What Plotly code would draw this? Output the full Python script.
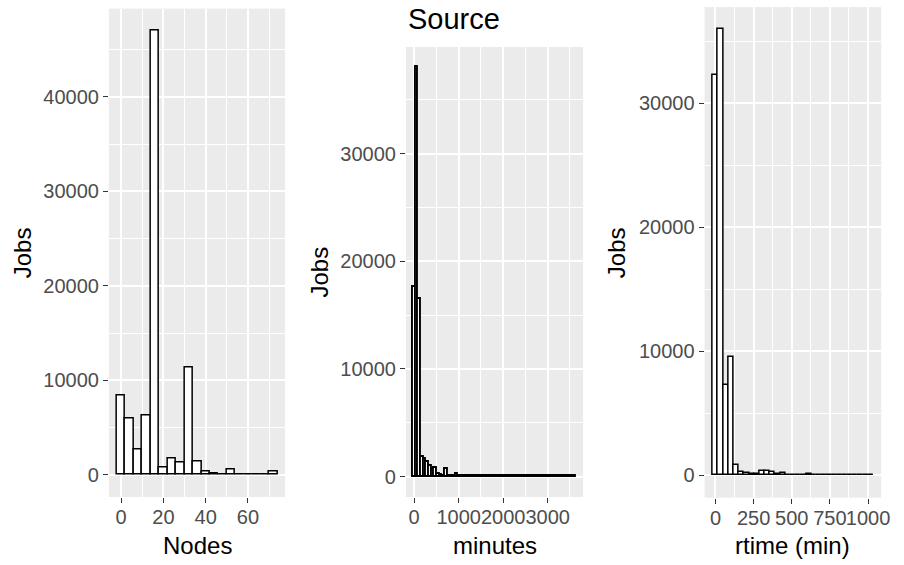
import plotly.graph_objects as go

# ---------------- data ----------------
nodes_centers = [0, 4, 8, 12, 16, 20, 24, 28, 32, 36, 40, 44, 48, 52, 56, 60, 64, 68, 72]
nodes_counts = [8400, 5900, 2700, 6300, 47000, 760, 1700, 1340, 11370, 1450,
                300, 100, 30, 500, 20, 15, 15, 15, 380]
nodes_binwidth = 4

minutes_centers = list(range(0, 3601, 60))
minutes_counts = [17600, 38000, 16500, 1800, 1600, 1350, 950, 600, 800, 200,
                  100, 80, 700, 80, 50, 40, 250, 30, 30, 20,
                  20, 20, 20, 15, 80, 15, 12, 10, 10, 12,
                  10, 10, 10, 8, 8, 10, 12, 8, 8, 8,
                  8, 8, 10, 8, 8, 8, 8, 8, 10, 8,
                  8, 8, 8, 8, 8, 8, 8, 8, 8, 8, 12]
minutes_binwidth = 60

rtime_centers = list(range(0, 1021, 34))
rtime_counts = [32300, 35950, 7300, 9500, 850, 300, 150, 130, 130, 380,
                350, 250, 120, 220, 60, 40, 40, 60, 120, 30,
                20, 30, 15, 10, 10, 8, 8, 10, 6, 6, 10]
rtime_binwidth = 34

nodes_xticks = [0, 20, 40, 60]
minutes_xticks = [0, 1000, 2000, 3000]
rtime_xticks = [0, 250, 500, 750, 1000]

# ---------------- layout helpers ----------------
W, H = 904, 565
FONT = "Liberation Sans, Arial, Helvetica, sans-serif"
PANEL_BG = "#EBEBEB"
TICK_COL = "#4D4D4D"


def px_x(p):
    return p / W


def px_y(p):
    return 1 - p / H


panels = [
    # (x0, x1, ytop, ybottom) in pixels
    (110, 288, 8.6, 497),
    (410, 589, 47, 497),
    (711.7, 890, 7.1, 497.7),
]

fig = go.Figure()

series = [
    (nodes_centers, nodes_counts, nodes_binwidth, 1.5),
    (minutes_centers, minutes_counts, minutes_binwidth, 1.9),
    (rtime_centers, rtime_counts, rtime_binwidth, 1.5),
]

for i, (cx, cy, bw, lw) in enumerate(series):
    suffix = "" if i == 0 else str(i + 1)
    fig.add_trace(go.Bar(
        x=cx, y=cy, width=bw,
        marker=dict(color="white", line=dict(color="black", width=lw)),
        xaxis="x" + suffix, yaxis="y" + suffix,
        showlegend=False, hoverinfo="x+y",
    ))

xranges = [[-5.8, 77.6], [-184, 3795], [-71, 1086]]
yranges = [[-2350, 49350], [-1900, 39900], [-1800, 37750]]
xdt = [(20, 10, nodes_xticks), (1000, 500, minutes_xticks), (250, 125, rtime_xticks)]
ymaxtick = [40000, 30000, 30000]

axis_common = dict(
    showgrid=True, gridcolor="white", gridwidth=1.8,
    zeroline=False, showline=False,
    ticks="outside", ticklen=5, tickwidth=1.4, tickcolor="#333333",
    tickfont=dict(family=FONT, size=20, color=TICK_COL),
    tickangle=0,
)

layout = dict(
    width=W, height=H, autosize=False,
    margin=dict(l=0, r=0, t=0, b=0),
    paper_bgcolor="white", plot_bgcolor=PANEL_BG,
    bargap=0, barmode="overlay",
    showlegend=False,
)

for i in range(3):
    suffix = "" if i == 0 else str(i + 1)
    x0, x1, yt, yb = panels[i]
    major, minor, tv = xdt[i]
    yt_vals = list(range(0, ymaxtick[i] + 1, 10000))
    layout["xaxis" + suffix] = dict(
        axis_common,
        domain=[px_x(x0), px_x(x1)],
        range=xranges[i],
        anchor="y" + suffix,
        tickmode="array", tickvals=tv, ticktext=[str(v) for v in tv],
        ticklabelstandoff=-3,
        minor=dict(tickmode="linear", tick0=0, dtick=minor, showgrid=True,
                   gridcolor="white", gridwidth=0.9, ticks=""),
    )
    layout["yaxis" + suffix] = dict(
        axis_common,
        domain=[px_y(yb), px_y(yt)],
        range=yranges[i],
        anchor="x" + suffix,
        tickmode="array", tickvals=yt_vals, ticktext=[str(v) for v in yt_vals],
        minor=dict(tickmode="linear", tick0=0, dtick=5000, showgrid=True,
                   gridcolor="white", gridwidth=0.9, ticks=""),
    )

fig.update_layout(**layout)

# axis titles and main title as annotations
title_font = dict(family=FONT, size=24, color="black")
xtitles = ["Nodes", "minutes", "rtime (min)"]
ytitle_x = [22.7, 322.7, 623]
for i in range(3):
    x0, x1, yt, yb = panels[i]
    fig.add_annotation(
        text=xtitles[i], xref="paper", yref="paper",
        x=px_x((x0 + x1) / 2), y=px_y(545),
        xanchor="center", yanchor="middle", showarrow=False, font=title_font,
    )
    fig.add_annotation(
        text="Jobs", xref="paper", yref="paper",
        x=px_x(ytitle_x[i]), y=px_y((yt + yb) / 2),
        xanchor="center", yanchor="middle", showarrow=False, font=title_font,
        textangle=-90,
    )

fig.add_annotation(
    text="Source", xref="paper", yref="paper",
    x=px_x(410), y=px_y(19),
    xanchor="left", yanchor="middle", showarrow=False,
    font=dict(family=FONT, size=29, color="black"),
)

fig.write_html(
    "out.html",
    config={"displayModeBar": False},
    post_script="document.body.style.margin='0';document.body.style.overflow='hidden';",
)
